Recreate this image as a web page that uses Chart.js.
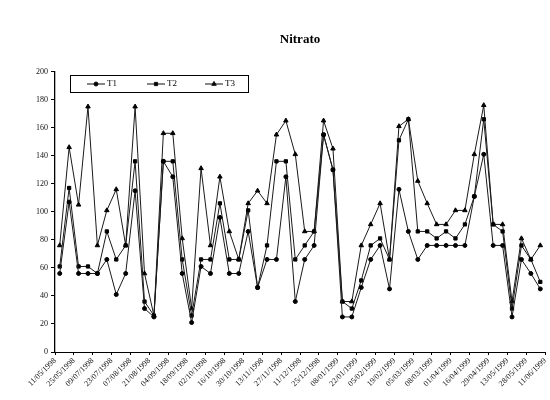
<!DOCTYPE html>
<html>
<head>
<meta charset="utf-8">
<script src="https://cdn.jsdelivr.net/npm/chart.js@4.4.0/dist/chart.umd.min.js"></script>
<style>
  html, body { margin: 0; padding: 0; background: #fff; }
</style>
</head>
<body>
<canvas id="GraficoNitrato" width="550" height="400"></canvas>
<script>
// fechas del eje (una etiqueta cada dos muestras aprox.)
const fechas = ["11/05/1998", "25/05/1998", "09/07/1998", "23/07/1998", "07/08/1998", "21/08/1998",
  "04/09/1998", "18/09/1998", "02/10/1998", "16/10/1998", "30/10/1998", "13/11/1998", "27/11/1998",
  "11/12/1998", "25/12/1998", "08/01/1999", "22/01/1999", "05/02/1999", "19/02/1999", "05/03/1999",
  "08/03/1999", "01/04/1999", "16/04/1999", "29/04/1999", "13/05/1999", "28/05/1999", "11/06/1999"];

const t1 = [56, 107, 56, 56, 56, 66, 41, 56, 115, 31, 25, 136, 125, 56, 21, 61, 56, 96, 56, 56,
  86, 46, 66, 66, 125, 36, 66, 76, 155, 130, 25, 25, 46, 66, 76, 45, 116, 86, 66, 76,
  76, 76, 76, 76, 111, 141, 76, 76, 25, 66, 56, 45];
const t2 = [61, 117, 61, 61, 56, 86, 66, 76, 136, 36, 26, 136, 136, 66, 26, 66, 66, 106, 66, 66,
  101, 46, 76, 136, 136, 66, 76, 86, 155, 130, 36, 31, 51, 76, 81, 66, 151, 166, 86, 86,
  81, 86, 81, 91, 111, 166, 91, 86, 31, 76, 66, 50];
const t3 = [76, 146, 105, 175, 76, 101, 116, 76, 175, 56, 26, 156, 156, 81, 31, 131, 76, 125, 86, 66,
  106, 115, 106, 155, 165, 141, 86, 86, 165, 145, 36, 36, 76, 91, 106, 66, 161, 166, 122, 106,
  91, 91, 101, 101, 141, 176, 91, 91, 36, 81, 66, 76];

// numero de muestra (eje oculto de los datos)
let muestras = [];
for (let i = 1; i <= t1.length; i++) muestras.push(String(i));

const serif = "'Liberation Serif', 'DejaVu Serif', serif";

// leyenda dentro del area del grafico, con recuadro
const leyenda = {
  id: "leyenda",
  afterDraw(chart) {
    const ctx = chart.ctx;
    ctx.save();
    ctx.fillStyle = "#fff";
    ctx.fillRect(70.5, 75.5, 178, 17);
    ctx.strokeStyle = "#000";
    ctx.lineWidth = 1;
    ctx.strokeRect(70.5, 75.5, 178, 17);
    const xs = [87, 147, 205];
    chart.data.datasets.forEach(function (ds, i) {
      const x = xs[i], y = 84;
      ctx.beginPath();
      ctx.moveTo(x, y);
      ctx.lineTo(x + 18, y);
      ctx.strokeStyle = "#111";
      ctx.stroke();
      ctx.fillStyle = "#000";
      Chart.helpers.drawPoint(ctx, {
        pointStyle: ds.pointStyle, radius: ds.pointRadius, borderWidth: 1, rotation: 0
      }, x + 9, y);
      ctx.fillStyle = "#000";
      ctx.font = "9px " + serif;
      ctx.textBaseline = "middle";
      ctx.fillText(ds.label, x + 20, y);
    });
    ctx.restore();
  }
};

let miCanvas = document.getElementById("GraficoNitrato").getContext("2d");

var chart = new Chart(miCanvas, {
  type: "line",
  data: {
    labels: muestras,
    datasets: [
      {
        label: "T1",
        data: t1,
        borderColor: "#1a1a1a",
        backgroundColor: "#000",
        borderWidth: 1,
        pointStyle: "circle",
        pointRadius: 2,
        pointBorderColor: "#000",
        pointBackgroundColor: "#000"
      },
      {
        label: "T2",
        data: t2,
        borderColor: "#1a1a1a",
        backgroundColor: "#000",
        borderWidth: 1,
        pointStyle: "rect",
        pointRadius: 2.3,
        pointBorderColor: "#000",
        pointBackgroundColor: "#000"
      },
      {
        label: "T3",
        data: t3,
        borderColor: "#1a1a1a",
        backgroundColor: "#000",
        borderWidth: 1,
        pointStyle: "triangle",
        pointRadius: 2.6,
        pointBorderColor: "#000",
        pointBackgroundColor: "#000"
      }
    ]
  },
  options: {
    responsive: false,
    animation: false,
    layout: { padding: 0 },
    plugins: {
      legend: { display: false },
      tooltip: { enabled: false },
      title: {
        display: true,
        text: "Nitrato",
        fullSize: false,
        color: "#000",
        font: { family: serif, size: 13, weight: "bold" },
        padding: { top: 32, bottom: 24 }
      }
    },
    scales: {
      x: {
        type: "category",
        display: false,
        offset: true
      },
      fechas: {
        type: "category",
        labels: fechas,
        position: "bottom",
        offset: false,
        grid: { drawOnChartArea: false, color: "#000", tickLength: 3 },
        border: { color: "#000", width: 1 },
        ticks: {
          autoSkip: false,
          minRotation: 45,
          maxRotation: 45,
          color: "#111",
          padding: 1,
          font: { family: serif, size: 8 }
        },
        afterFit(scale) {
          scale.height = 48;
          scale.paddingRight = 0;
        }
      },
      y: {
        min: 0,
        max: 200,
        grid: { drawOnChartArea: false, color: "#000", tickLength: 4 },
        border: { color: "#000", width: 1.3 },
        ticks: {
          stepSize: 20,
          color: "#111",
          padding: 3,
          font: { family: serif, size: 8 }
        },
        afterFit(scale) { scale.width = 55; }
      }
    }
  },
  plugins: [leyenda]
});
</script>
</body>
</html>
